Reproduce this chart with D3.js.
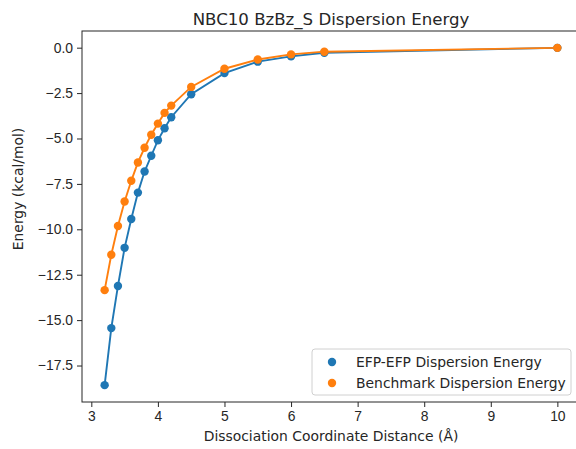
<!DOCTYPE html>
<html>
<head>
<meta charset="utf-8">
<script src="https://cdn.jsdelivr.net/npm/d3@7"></script>
<style>
  body { margin: 0; background: #fff; }
  svg { font-family: "DejaVu Sans", sans-serif; }
  .tick text { font-size: 13.9px; fill: #262626; }
  .tick line { stroke: #262626; }
  .domain { display: none; }
</style>
</head>
<body>
<div id="chart"></div>
<script>
const distances = [3.2, 3.3, 3.4, 3.5, 3.6, 3.7, 3.8, 3.9, 4.0, 4.1, 4.2, 4.5, 5.0, 5.5, 6.0, 6.5, 10.0];
const efpEnergy = [-18.58, -15.44, -13.12, -11.02, -9.43, -7.98, -6.82, -5.95, -5.10, -4.44, -3.83, -2.56, -1.40, -0.77, -0.48, -0.28, -0.01];
const benchEnergy = [-13.35, -11.40, -9.82, -8.47, -7.33, -6.32, -5.51, -4.79, -4.18, -3.59, -3.19, -2.16, -1.16, -0.65, -0.37, -0.22, -0.01];
const xTicks = [3, 4, 5, 6, 7, 8, 9, 10];
const yTicks = [0, -2.5, -5, -7.5, -10, -12.5, -15, -17.5];

const series = [
  { name: "EFP-EFP Dispersion Energy", values: efpEnergy, color: "#1f77b4" },
  { name: "Benchmark Dispersion Energy", values: benchEnergy, color: "#ff7f0e" }
];

const width = 576, height = 449;
const margin = { top: 31, right: -4, bottom: 47, left: 82 };
const innerWidth = width - margin.left - margin.right;
const innerHeight = height - margin.top - margin.bottom;

const svg = d3.select("#chart").append("svg")
  .attr("width", width)
  .attr("height", height);

const chart = svg.append("g")
  .attr("transform", `translate(${margin.left},${margin.top})`);

// matplotlib-style 5% margins
const pad = (ext) => {
  const d = ext[1] - ext[0];
  return [ext[0] - d * 0.05, ext[1] + d * 0.05];
};
const allY = efpEnergy.concat(benchEnergy);

const x = d3.scaleLinear()
  .domain(pad(d3.extent(distances)))
  .range([0, innerWidth]);

const y = d3.scaleLinear()
  .domain(pad(d3.extent(allY)))
  .range([innerHeight, 0]);

chart.append("g")
  .attr("transform", `translate(0,${innerHeight})`)
  .call(d3.axisBottom(x).tickValues(xTicks).tickSize(5).tickPadding(4).tickFormat(d3.format("d")));

chart.append("g")
  .call(d3.axisLeft(y).tickValues(yTicks).tickSize(5).tickPadding(4)
    .tickFormat((d) => d3.format(".1f")(d).replace("-", "\u2212")));

const line = d3.line()
  .x((d) => x(d[0]))
  .y((d) => y(d[1]));

series.forEach((s) => {
  const pts = distances.map((d, i) => [d, s.values[i]]);
  chart.selectAll(null)
    .data(pts)
    .join("circle")
    .attr("cx", (d) => x(d[0]))
    .attr("cy", (d) => y(d[1]))
    .attr("r", 4.2)
    .attr("fill", s.color);
  chart.append("path")
    .datum(pts)
    .attr("d", line)
    .attr("fill", "none")
    .attr("stroke", s.color)
    .attr("stroke-width", 1.9);
});

// frame
chart.append("rect")
  .attr("width", innerWidth)
  .attr("height", innerHeight)
  .attr("fill", "none")
  .attr("stroke", "#262626")
  .attr("stroke-width", 1);

svg.append("text")
  .attr("x", margin.left + innerWidth / 2)
  .attr("y", 25)
  .attr("text-anchor", "middle")
  .attr("font-size", 16.6)
  .attr("fill", "#262626")
  .text("NBC10 BzBz_S Dispersion Energy");

svg.append("text")
  .attr("x", margin.left + innerWidth / 2)
  .attr("y", 441)
  .attr("text-anchor", "middle")
  .attr("font-size", 13.9)
  .attr("fill", "#262626")
  .text("Dissociation Coordinate Distance (Å)");

svg.append("text")
  .attr("transform", "translate(23,189) rotate(-90)")
  .attr("text-anchor", "middle")
  .attr("font-size", 13.9)
  .attr("fill", "#262626")
  .text("Energy (kcal/mol)");

// legend
const legend = svg.append("g").attr("transform", "translate(312,349)");
legend.append("rect")
  .attr("width", 259)
  .attr("height", 46)
  .attr("rx", 3)
  .attr("fill", "#fff")
  .attr("fill-opacity", 0.8)
  .attr("stroke", "#d0d0d0");

const items = legend.selectAll(".legend-item")
  .data(series)
  .join("g")
  .attr("class", "legend-item")
  .attr("transform", (d, i) => `translate(0,${13 + i * 21})`);

items.append("circle")
  .attr("cx", 20)
  .attr("r", 4.2)
  .attr("fill", (d) => d.color);

items.append("text")
  .attr("x", 44)
  .attr("dy", "0.35em")
  .attr("font-size", 13.9)
  .attr("fill", "#262626")
  .text((d) => d.name);
</script>
</body>
</html>
